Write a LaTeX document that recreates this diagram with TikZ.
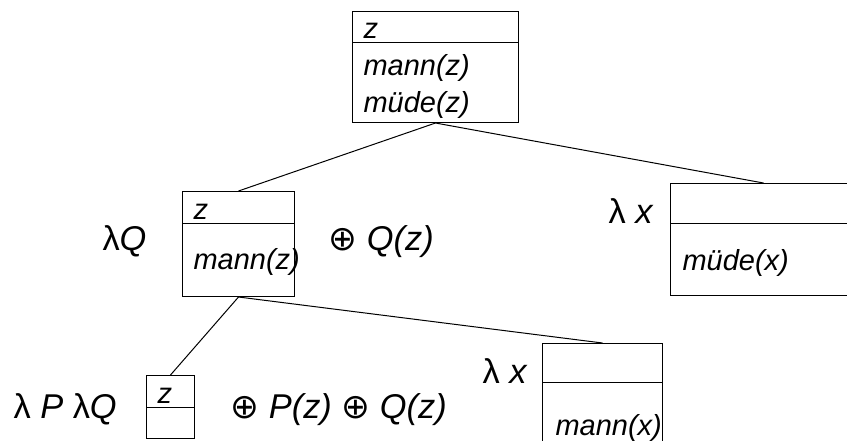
\documentclass[tikz,border=0pt]{standalone}
\usepackage{fontspec}
\setmainfont{Liberation Sans}
\newfontfamily\opfont{DejaVu Sans}

\tikzset{
  drs/.style={draw,rectangle,inner sep=0pt,anchor=north west},
  cond/.style={anchor=base west,inner sep=0pt,font=\fontsize{14.5}{17}\selectfont\itshape},
  lam/.style={anchor=base west,inner sep=0pt,font=\fontsize{17.2}{20}\selectfont},
}
\newcommand{\oplusop}{{\opfont\char"2295}}

\begin{document}
\begin{tikzpicture}[x=0.5pt,y=-0.5pt,line width=0.5pt]
  \useasboundingbox (0,0) rectangle (847,440);
  \clip (0,0) rectangle (847,440);

  % boxes
  \node[drs,minimum width=83pt,minimum height=55.5pt] (top) at (352,11) {};
  \node[drs,minimum width=56pt,minimum height=52.5pt] (mid) at (182,191) {};
  \node[drs,minimum width=93pt,minimum height=56pt] (right) at (670,183) {};
  \node[drs,minimum width=24pt,minimum height=31.5pt] (botl) at (146,375) {};
  \node[drs,minimum width=60pt,minimum height=55pt] (botr) at (542,343) {};

  \draw (top.west |- 0,42) -- (top.east |- 0,42);
  \draw (mid.west |- 0,223) -- (mid.east |- 0,223);
  \draw (right.west |- 0,223) -- (right.east |- 0,223);
  \draw (botl.west |- 0,407) -- (botl.east |- 0,407);
  \draw (botr.west |- 0,382) -- (botr.east |- 0,382);

  % top box
  \node[cond] (topref) at (363,38) {z};
  \node[cond] (topmann) at (363,75) {mann(z)};
  \node[cond] (topmuede) at (363,112) {müde(z)};

  % middle left
  \node[lam] (midlam) at (102,250) {λ\textit{Q}};
  \node[cond] (midref) at (193,219) {z};
  \node[cond] (midmann) at (193,269) {mann(z)};
  \node[lam] (midplus) at (328,250) {\oplusop{} \textit{Q(z)}};

  % middle right
  \node[lam] (rightlam) at (608,223) {λ \textit{x}};
  \node[cond] (rightmuede) at (682,270) {müde(x)};

  % bottom left
  \node[lam] (botllam) at (13,418) {λ \textit{P} λ\textit{Q}};
  \node[cond] (botlref) at (157,403) {z};
  \node[lam] (botlplus) at (230,418) {\oplusop{} \textit{P(z)} \oplusop{} \textit{Q(z)}};

  % bottom right
  \node[lam] (botrlam) at (482,383) {λ \textit{x}};
  \node[cond] (botrmann) at (555,435) {mann(x)};

  % tree
  \draw (top.south) -- (mid.north);
  \draw (top.south) -- (right.north);
  \draw (mid.south) -- (botl.north);
  \draw (mid.south) -- (botr.north);
\end{tikzpicture}
\end{document}
